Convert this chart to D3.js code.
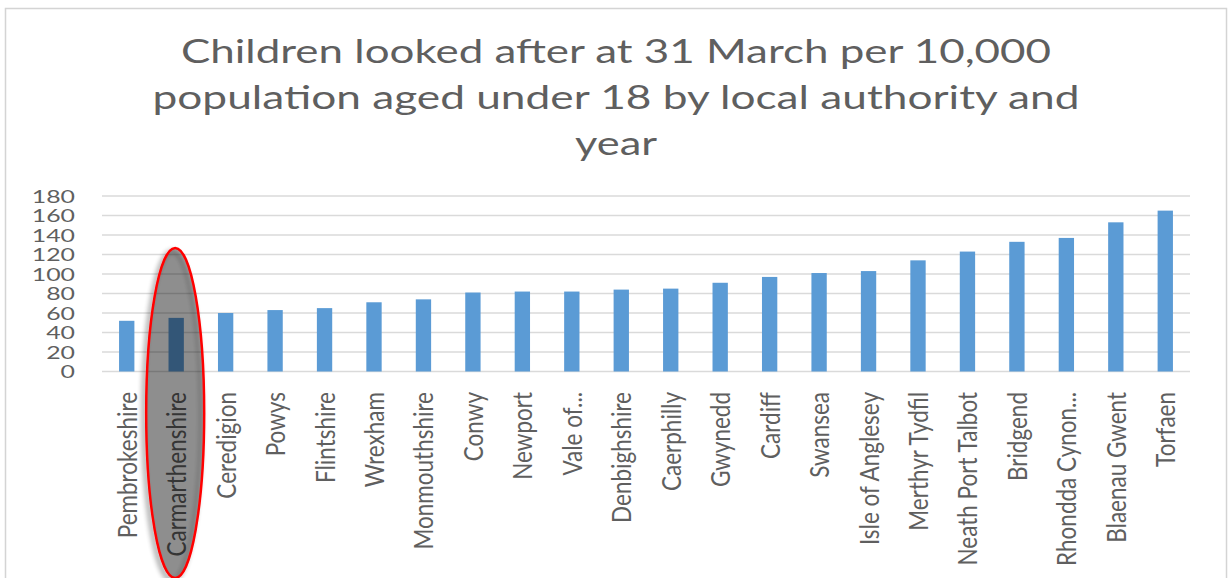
<!DOCTYPE html>
<html>
<head>
<meta charset="utf-8">
<script src="https://cdn.jsdelivr.net/npm/d3@7"></script>
<style>
  html, body { margin: 0; padding: 0; background: #ffffff; }
  svg { display: block; }
</style>
</head>
<body>
<svg id="chart" width="1231" height="578"></svg>
<script>
const titleLines = [
  "Children looked after at 31 March per 10,000",
  "population aged under 18 by local authority and",
  "year"
];
const categories = [
  "Pembrokeshire", "Carmarthenshire", "Ceredigion", "Powys", "Flintshire",
  "Wrexham", "Monmouthshire", "Conwy", "Newport", "Vale of...",
  "Denbighshire", "Caerphilly", "Gwynedd", "Cardiff", "Swansea",
  "Isle of Anglesey", "Merthyr Tydfil", "Neath Port Talbot", "Bridgend",
  "Rhondda Cynon...", "Blaenau Gwent", "Torfaen"
];
const values = [
  52, 55, 60, 63, 65,
  71, 74, 81, 82, 82,
  84, 85, 91, 97, 101,
  103, 114, 123, 133,
  137, 153, 165
];
const yTicks = [0, 20, 40, 60, 80, 100, 120, 140, 160, 180];
const highlighted = "Carmarthenshire";

const svg = d3.select("#chart");
const textColor = "#5f5f5f";

// defs: shadow for ellipse
const defs = svg.append("defs");
const f = defs.append("filter").attr("id", "shadow").attr("x", "-50%").attr("y", "-20%").attr("width", "200%").attr("height", "140%");
f.append("feGaussianBlur").attr("in", "SourceAlpha").attr("stdDeviation", 2.5).attr("result", "b");
f.append("feOffset").attr("in", "b").attr("dx", -3).attr("dy", 3).attr("result", "o");
f.append("feComponentTransfer").attr("in", "o").attr("result", "o2")
  .append("feFuncA").attr("type", "linear").attr("slope", 0.45);
const fm = f.append("feMerge");
fm.append("feMergeNode").attr("in", "o2");
fm.append("feMergeNode").attr("in", "SourceGraphic");

// outer frame
svg.append("rect").attr("x", 5.5).attr("y", 8.5).attr("width", 1221).attr("height", 620)
  .attr("fill", "#ffffff").attr("stroke", "#d4d4d4").attr("stroke-width", 1.5);

// title
const titleY = [63, 109, 155];
const titleW = [870, 927, 82];
svg.append("g").selectAll("text").data(titleLines).join("text")
  .attr("x", 616).attr("y", (d, i) => titleY[i])
  .attr("text-anchor", "middle")
  .attr("font-family", "Lato, 'Open Sans', sans-serif")
  .attr("font-size", 33)
  .attr("fill", textColor)
  .attr("textLength", (d, i) => titleW[i])
  .attr("lengthAdjust", "spacingAndGlyphs")
  .text(d => d);

const x = d3.scaleBand().domain(categories).range([102, 1190]).paddingInner(0.69).paddingOuter(0.345);
const y = d3.scaleLinear().domain([0, 180]).range([371.5, 196]);

// gridlines
svg.append("g").selectAll("line").data(yTicks).join("line")
  .attr("x1", 102).attr("x2", 1190)
  .attr("y1", d => y(d)).attr("y2", d => y(d))
  .attr("stroke", "#dadada").attr("stroke-width", 1.5);

// y axis labels
const yAxis = d3.axisLeft(y).tickValues(yTicks).tickSize(0).tickPadding(0);
const yg = svg.append("g").attr("transform", "translate(75,0)").call(yAxis);
yg.select(".domain").remove();
yg.selectAll(".tick text")
  .attr("font-family", "Lato, 'Open Sans', sans-serif")
  .attr("font-size", 17.5)
  .attr("fill", textColor)
  .attr("x", null).attr("dy", "0.36em")
  .attr("transform", "scale(1.42,1)")
  .attr("text-anchor", "end");

// bars
svg.append("g").selectAll("rect").data(categories).join("rect")
  .attr("x", d => x(d))
  .attr("width", x.bandwidth())
  .attr("y", (d, i) => y(values[i]))
  .attr("height", (d, i) => y(0) - y(values[i]))
  .attr("fill", "#5b9bd5");

// x axis category labels
const labG = svg.append("g");
categories.forEach((c) => {
  const cx = x(c) + x.bandwidth() / 2 + 10;
  labG.append("text")
    .attr("transform", `translate(${cx},392) scale(1.18,1) rotate(-90)`)
    .attr("text-anchor", "end")
    .attr("font-family", "Lato, 'Open Sans', sans-serif")
    .attr("font-size", 22.5)
    .attr("fill", textColor)
    .text(c);
});

// highlight ellipse
const hx = x(highlighted) + x.bandwidth() / 2 - 1;
svg.append("ellipse")
  .attr("cx", hx).attr("cy", 413).attr("rx", 29).attr("ry", 165)
  .attr("fill", "rgba(0,0,0,0.34)")
  .attr("stroke", "#ff0000").attr("stroke-width", 2.5)
  .attr("filter", "url(#shadow)");
</script>
</body>
</html>
